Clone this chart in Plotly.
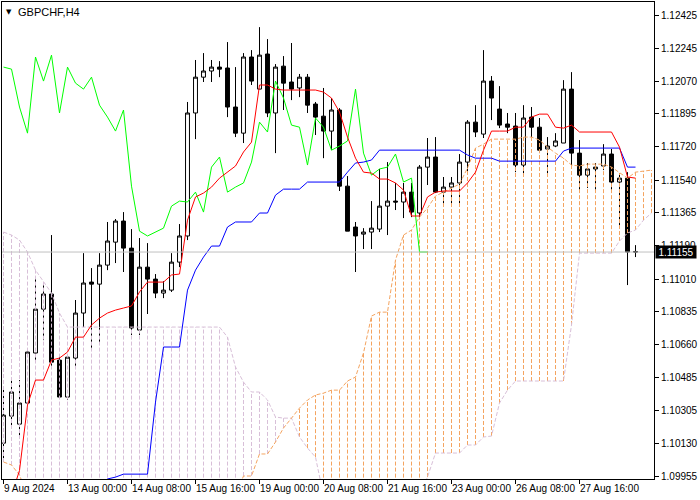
import plotly.graph_objects as go

# ---------------- data (GBPCHF, H4) ----------------
opens = [1.10131, 1.10276, 1.10233, 1.10346, 1.10614, 1.10849, 1.10930, 1.10576, 1.10378, 1.10587,
         1.10828, 1.10994, 1.10983, 1.11085, 1.11208, 1.11321, 1.11176, 1.10737, 1.11074, 1.11010,
         1.10935, 1.10951, 1.11101, 1.11241, 1.11900, 1.12092, 1.12125, 1.12146, 1.12141, 1.11932,
         1.11792, 1.12200, 1.12028, 1.12216, 1.11900, 1.12151, 1.12066, 1.12034, 1.12092, 1.11948,
         1.11883, 1.11803, 1.11916, 1.11508, 1.11289, 1.11251, 1.11262, 1.11278, 1.11401, 1.11428,
         1.11423, 1.11476, 1.11364, 1.11610, 1.11664, 1.11476, 1.11503, 1.11525, 1.11637, 1.11851,
         1.11787, 1.12071, 1.11921, 1.11841, 1.11830, 1.11621, 1.11878, 1.11824, 1.11707, 1.11723,
         1.11739, 1.12028, 1.11685, 1.11567, 1.11600, 1.11616, 1.11680, 1.11530, 1.11551, 1.11158]
highs = [1.10431, 1.10469, 1.10469, 1.10640, 1.11016, 1.10989, 1.11246, 1.10603, 1.10603, 1.10898,
         1.11149, 1.11069, 1.11149, 1.11316, 1.11332, 1.11369, 1.11278, 1.11230, 1.11203, 1.11037,
         1.10999, 1.11149, 1.11305, 1.11959, 1.12184, 1.12221, 1.12184, 1.12178, 1.12280, 1.12146,
         1.12221, 1.12237, 1.12360, 1.12296, 1.12162, 1.12205, 1.12275, 1.12109, 1.12109, 1.11959,
         1.12034, 1.11980, 1.11926, 1.11562, 1.11316, 1.11283, 1.11428, 1.11600, 1.11637, 1.11525,
         1.11525, 1.11525, 1.11621, 1.11766, 1.11771, 1.11557, 1.11557, 1.11680, 1.11862, 1.11942,
         1.12237, 1.12098, 1.12044, 1.11900, 1.11900, 1.11942, 1.11932, 1.11873, 1.11771, 1.11792,
         1.12076, 1.12119, 1.11755, 1.11632, 1.11632, 1.11733, 1.11707, 1.11578, 1.11583, 1.11192]
lows = [1.10051, 1.10217, 1.10164, 1.10335, 1.10576, 1.10683, 1.10539, 1.10373, 1.10362, 1.10539,
        1.10753, 1.10640, 1.10657, 1.11058, 1.11096, 1.11048, 1.10710, 1.10710, 1.10823, 1.10908,
        1.10908, 1.10941, 1.11074, 1.11219, 1.11760, 1.12066, 1.12066, 1.12092, 1.11878, 1.11771,
        1.11739, 1.12050, 1.12028, 1.11878, 1.11685, 1.11916, 1.11969, 1.11985, 1.11900, 1.11782,
        1.11658, 1.11701, 1.11482, 1.11267, 1.11048, 1.11171, 1.11171, 1.11262, 1.11246, 1.11380,
        1.11337, 1.11342, 1.11342, 1.11514, 1.11471, 1.11407, 1.11407, 1.11417, 1.11583, 1.11771,
        1.11766, 1.11862, 1.11819, 1.11792, 1.11583, 1.11557, 1.11771, 1.11685, 1.11578, 1.11717,
        1.11739, 1.11621, 1.11487, 1.11498, 1.11487, 1.11594, 1.11487, 1.11283, 1.10978, 1.11128]
closes = [1.10281, 1.10405, 1.10346, 1.10619, 1.10849, 1.10930, 1.10565, 1.10378, 1.10592, 1.10828,
          1.10989, 1.10983, 1.11085, 1.11214, 1.11321, 1.11176, 1.10748, 1.11074, 1.11010, 1.10935,
          1.10951, 1.11101, 1.11241, 1.11900, 1.12092, 1.12125, 1.12146, 1.12135, 1.11932, 1.11792,
          1.12200, 1.12071, 1.12210, 1.11900, 1.12146, 1.12060, 1.12028, 1.12092, 1.11942, 1.11878,
          1.11803, 1.11916, 1.11508, 1.11267, 1.11241, 1.11262, 1.11283, 1.11401, 1.11428, 1.11423,
          1.11476, 1.11369, 1.11610, 1.11664, 1.11476, 1.11503, 1.11525, 1.11637, 1.11851, 1.11798,
          1.12071, 1.11980, 1.11835, 1.11824, 1.11621, 1.11873, 1.11824, 1.11701, 1.11723, 1.11750,
          1.12028, 1.11685, 1.11567, 1.11600, 1.11610, 1.11680, 1.11530, 1.11551, 1.11155, 1.11155]

tenkan = [None, 1.0985, 1.09985, 1.10335, 1.10469, 1.10469, 1.10576, 1.10587, 1.10619, 1.10699,
          1.10699, 1.10764, 1.10801, 1.10828, 1.10844, 1.10855, 1.10866, 1.10941, 1.10994, 1.10994,
          1.10994, 1.11032, 1.11037, 1.11326, 1.11450, 1.11471, 1.11503, 1.11551, 1.11583, 1.11616,
          1.11691, 1.11744, 1.12050, 1.12050, 1.12028, 1.12023, 1.12023, 1.12023, 1.12023, 1.12023,
          1.12012, 1.11980, 1.11905, 1.11771, 1.11658, 1.11583, 1.11578, 1.11546, 1.11546, 1.11525,
          1.11487, 1.11348, 1.11348, 1.11450, 1.11476, 1.11482, 1.11482, 1.11482, 1.11525, 1.11583,
          1.11701, 1.11803, 1.11803, 1.11803, 1.11824, 1.11824, 1.11878, 1.11894, 1.11894, 1.11824,
          1.11819, 1.11835, 1.11798, 1.11798, 1.11798, 1.11798, 1.11798, 1.11717, 1.11557, 1.11551]

kijun = [None] * 12 + [1.0990, 1.09939, 1.09949, 1.09965, 1.09965, 1.09965, 1.09965, 1.10351,
                       1.10646, 1.10646, 1.10646, 1.10951, 1.11058, 1.11128, 1.11187, 1.11187,
                       1.11289, 1.11316, 1.11316, 1.11316, 1.11364, 1.11364, 1.11460, 1.11492,
                       1.11492, 1.11492, 1.11530, 1.11530, 1.11530, 1.11530, 1.11530, 1.11583,
                       1.11632, 1.11637, 1.11648, 1.11701, 1.11701, 1.11701, 1.11701, 1.11701,
                       1.11701, 1.11701, 1.11701, 1.11701, 1.11701, 1.11701, 1.11675, 1.11658,
                       1.11658, 1.11658, 1.11642, 1.11642, 1.11642, 1.11642, 1.11642, 1.11642,
                       1.11642, 1.11642, 1.11696, 1.11712, 1.11712, 1.11712, 1.11712, 1.11712,
                       1.11712, 1.11712, 1.11610, 1.11610]

# Senkou spans (already displaced 26 bars ahead; bars 80-81 are in the chart shift area)
span_a = ([1.10030, 1.10014, 1.09960] + [1.0985] * 27 +
          [1.09955, 1.09955, 1.10073, 1.10073, 1.10137, 1.10212, 1.10265, 1.10319, 1.10362, 1.10389,
           1.10399, 1.10415, 1.10415, 1.10464, 1.10485, 1.10614, 1.10812, 1.10833, 1.10833, 1.11112,
           1.11246, 1.11273, 1.11342, 1.11391, 1.11455, 1.11476, 1.11498, 1.11519, 1.11605, 1.11712,
           1.11733, 1.11760, 1.11760, 1.11760, 1.11760, 1.11771, 1.11771, 1.11755, 1.11717, 1.11685,
           1.11658, 1.11621, 1.11616, 1.11626, 1.11626, 1.11626, 1.11610, 1.11578, 1.11551, 1.11583,
           1.11589, 1.11594])
span_b = ([1.11262, 1.11246, 1.11219, 1.11155, 1.11058, 1.10994, 1.10935, 1.10828] + [1.10753] * 20 +
          [1.10699, 1.10539, 1.10458, 1.10405, 1.10405, 1.10362, 1.10271, 1.10265, 1.10265, 1.10164,
           1.10105, 1.10056] + [1.0985] * 13 +
          [1.09949, 1.10078, 1.10078, 1.10078, 1.10078, 1.10121, 1.10121, 1.10164, 1.10169, 1.10346,
           1.10415, 1.10464, 1.10464, 1.10464, 1.10464, 1.10464, 1.10464, 1.10464, 1.10764, 1.11149,
           1.11149, 1.11149, 1.11149, 1.11149, 1.11214, 1.11257, 1.11273, 1.11326, 1.11364])

chikou_shift = 26
tick_pos = [0, 8, 16, 24, 32, 40, 48, 56, 64, 72]
tick_labels = ["9 Aug 2024", "13 Aug 00:00", "14 Aug 08:00", "15 Aug 16:00", "19 Aug 00:00",
               "20 Aug 08:00", "21 Aug 16:00", "23 Aug 00:00", "26 Aug 08:00", "27 Aug 16:00"]
price_ticks = [1.12425, 1.12245, 1.12070, 1.11895, 1.11720, 1.11540, 1.11365, 1.11190,
               1.11010, 1.10835, 1.10660, 1.10485, 1.10305, 1.10130, 1.09955]
symbol_title = "GBPCHF,H4"

# ---------------- figure ----------------
FONT = "Liberation Sans"
HATCH = "4px,2px"
bars = list(range(len(closes)))
cloud_x = list(range(len(span_a)))

fig = go.Figure()

fig.add_trace(go.Candlestick(
    x=bars, open=opens, high=highs, low=lows, close=closes,
    increasing=dict(line=dict(color="black", width=1), fillcolor="white"),
    decreasing=dict(line=dict(color="black", width=1), fillcolor="black"),
    whiskerwidth=0, showlegend=False, hoverinfo="skip"))

# cloud hatching
hx_o, hy_o, hx_t, hy_t = [], [], [], []
for i, (a, b) in enumerate(zip(span_a, span_b)):
    if a >= b:
        hx_o += [i, i, None]
        hy_o += [b, a, None]
    else:
        hx_t += [i, i, None]
        hy_t += [a, b, None]
fig.add_trace(go.Scatter(x=hx_t, y=hy_t, mode="lines", hoverinfo="skip", showlegend=False,
                         line=dict(color="#D8BFD8", width=1, dash=HATCH)))
fig.add_trace(go.Scatter(x=hx_o, y=hy_o, mode="lines", hoverinfo="skip", showlegend=False,
                         line=dict(color="#F4A460", width=1, dash=HATCH)))

fig.add_trace(go.Scatter(x=cloud_x, y=span_b, mode="lines", showlegend=False, hoverinfo="skip",
                         line=dict(color="#D8BFD8", width=1, dash=HATCH)))
fig.add_trace(go.Scatter(x=cloud_x, y=span_a, mode="lines", showlegend=False, hoverinfo="skip",
                         line=dict(color="#F4A460", width=1, dash=HATCH)))

fig.add_trace(go.Scatter(x=bars[:len(closes) - chikou_shift], y=closes[chikou_shift:], mode="lines",
                         showlegend=False, hoverinfo="skip", line=dict(color="#00FF00", width=1)))
fig.add_trace(go.Scatter(x=bars, y=kijun, mode="lines", showlegend=False, hoverinfo="skip",
                         line=dict(color="#0000FF", width=1)))
fig.add_trace(go.Scatter(x=bars, y=tenkan, mode="lines", showlegend=False, hoverinfo="skip",
                         line=dict(color="#FF0000", width=1)))

last_price = closes[-1]
fig.add_shape(type="line", xref="paper", x0=0, x1=1, yref="y", y0=last_price, y1=last_price,
              line=dict(color="#C0C0C0", width=1), layer="above")

annotations = []
for p, lab in zip(tick_pos, tick_labels):
    annotations.append(dict(x=p, xref="x", y=0, yref="paper", yanchor="top", xanchor="left",
                            yshift=-3, xshift=-1, text=lab, showarrow=False, borderpad=0,
                            font=dict(family=FONT, size=10, color="black")))
annotations.append(dict(x=1, xref="paper", y=last_price, yref="y", xanchor="left", yanchor="middle",
                        xshift=1, text=f"{last_price:.5f}", showarrow=False, bgcolor="black",
                        width=40, height=12, borderpad=0,
                        font=dict(family=FONT, size=10, color="white")))
annotations.append(dict(x=0, xref="paper", y=1, yref="paper", xanchor="left", yanchor="top",
                        xshift=3, yshift=-5, text="▼", showarrow=False, borderpad=0,
                        font=dict(family="DejaVu Sans", size=7, color="black")))
annotations.append(dict(x=0, xref="paper", y=1, yref="paper", xanchor="left", yanchor="top",
                        xshift=15, yshift=-3, text=symbol_title, showarrow=False, borderpad=0,
                        font=dict(family=FONT, size=11, color="black")))

fig.update_layout(
    template="none",
    width=700, height=500,
    margin=dict(l=2, r=46, t=2, b=21, autoexpand=False),
    paper_bgcolor="white", plot_bgcolor="white",
    showlegend=False,
    font=dict(family=FONT, size=10, color="black"),
    annotations=annotations,
    xaxis=dict(range=[-0.1875, 81.3125], tickvals=tick_pos, ticktext=[""] * len(tick_pos),
               ticks="outside", ticklen=4, tickcolor="black", showgrid=False, zeroline=False,
               showline=True, linecolor="black", linewidth=1, mirror=True,
               rangeslider=dict(visible=False), fixedrange=True),
    yaxis=dict(range=[1.099389, 1.124947], side="right", tickvals=price_ticks,
               ticktext=[f"{v:.5f}" for v in price_ticks], ticks="outside", ticklen=4,
               tickcolor="black", showgrid=False, zeroline=False, showline=True,
               linecolor="black", linewidth=1, mirror=True,
               tickfont=dict(family=FONT, size=10, color="black"), fixedrange=True),
)

fig.write_html("out.html", config={"displayModeBar": False},
               post_script="document.body.style.margin='0';document.body.style.overflow='hidden';")
